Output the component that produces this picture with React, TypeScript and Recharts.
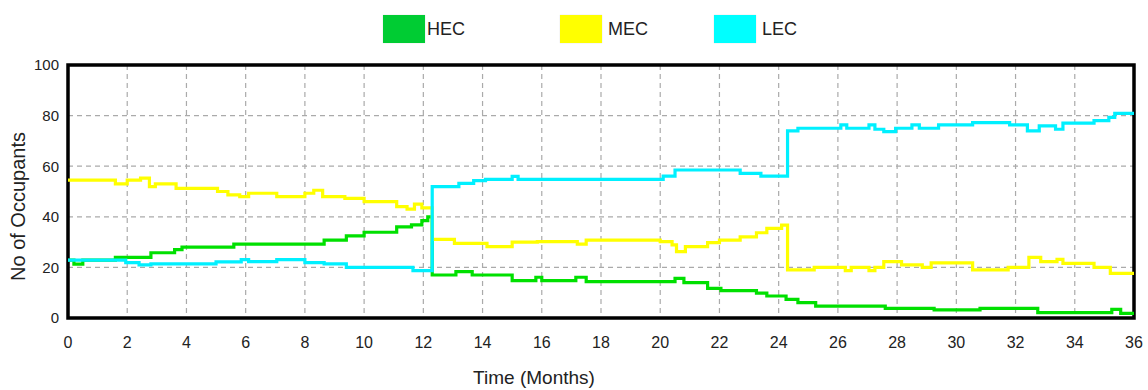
import React from 'react';
import { LineChart, Line, XAxis, YAxis, CartesianGrid, Legend, ReferenceArea } from 'recharts';

// HEC (green) step breakpoints: months and occupants
const HEC_T = [0, 0.2, 0.5, 1.6, 2.8, 3.6, 3.85, 5.6, 8.65, 9.4, 10.0, 11.1, 11.6, 11.95, 12.15, 12.3, 13.1, 13.65, 15.0, 15.8, 16.0, 17.15, 17.5, 20.5, 20.8, 21.6, 22.05, 23.25, 23.6, 24.25, 24.65, 25.25, 27.6, 29.25, 30.8, 32.75, 35.25, 35.55, 36];
const HEC_V = [22.9, 21.3, 22.9, 24, 25.8, 27, 28, 29.2, 30.8, 32.5, 33.9, 36, 36.8, 38.5, 40, 17, 18.3, 17, 14.8, 16.1, 14.8, 16.1, 14.4, 15.7, 14, 11.7, 10.8, 9.8, 8.7, 7.4, 6.1, 4.7, 3.8, 3.2, 3.8, 2.1, 3.4, 1.8, 1.8];

// MEC (yellow)
const MEC_T = [0, 1.6, 2.0, 2.45, 2.75, 2.95, 3.65, 5.05, 5.4, 5.8, 6.1, 7.05, 8.0, 8.3, 8.6, 9.35, 10.0, 11.1, 11.45, 11.7, 11.95, 12.3, 13.05, 14.15, 15.0, 15.85, 17.2, 17.5, 20.0, 20.4, 20.55, 20.85, 21.6, 22.0, 22.7, 23.25, 23.6, 24.1, 24.3, 25.2, 26.25, 26.45, 27.05, 27.25, 27.55, 28.15, 28.85, 29.15, 30.55, 31.75, 32.45, 32.85, 33.4, 33.6, 34.65, 35.2, 36];
const MEC_V = [54.5, 53, 54.5, 55.3, 51.9, 53, 51.2, 50, 48.7, 48, 49.3, 48, 49.3, 50.5, 48, 47.3, 46, 44, 43, 45, 43.5, 31.1, 29.5, 28.2, 30, 30.2, 29.2, 30.8, 30.2, 28.9, 26.2, 28.2, 29.8, 30.8, 32.1, 33.7, 35.4, 36.7, 19, 20, 18.7, 20, 18.7, 20, 22.3, 21, 20, 21.8, 19, 20, 24, 22.3, 23.2, 21.6, 20, 17.6, 17.6];

// LEC (cyan)
const LEC_T = [0, 1.95, 2.4, 2.8, 5.0, 5.85, 6.1, 7.05, 8.0, 8.65, 9.4, 11.65, 12.3, 13.2, 13.7, 14.1, 15.0, 15.2, 20.1, 20.5, 22.7, 23.4, 24.3, 24.65, 26.1, 26.3, 27.05, 27.25, 27.55, 27.95, 28.5, 28.75, 29.4, 30.55, 31.8, 32.4, 32.8, 33.35, 33.6, 34.65, 35.15, 35.35, 36];
const LEC_V = [22.9, 21.9, 21, 21.4, 22.2, 23.1, 22.3, 23.1, 21.9, 21.4, 20, 18.7, 51.9, 53.2, 54.3, 54.8, 56, 54.8, 56.1, 58.5, 57.2, 56.1, 74, 75, 76.3, 75, 76.3, 74.6, 73.7, 75, 76.3, 75, 76.3, 77.2, 76.3, 74, 75.9, 74.6, 77, 78, 79.3, 80.9, 80.9];

const X_TICKS = [0, 2, 4, 6, 8, 10, 12, 14, 16, 18, 20, 22, 24, 26, 28, 30, 32, 34, 36];
const Y_TICKS = [0, 20, 40, 60, 80, 100];

const SERIES = [
  { name: 'HEC', t: HEC_T, v: HEC_V, line: '#00e000', swatch: '#00cc33' },
  { name: 'MEC', t: MEC_T, v: MEC_V, line: '#ffff00', swatch: '#ffff00' },
  { name: 'LEC', t: LEC_T, v: LEC_V, line: '#00f0ff', swatch: '#00ffff' },
];

const LEGEND_POS = [
  { sx: 383, tx: 427 },
  { sx: 560, tx: 608 },
  { sx: 714, tx: 762 },
];

const renderLegend = () => (
  <div style={{ position: 'relative', width: 1148, height: 51 }}>
    {SERIES.map((s, i) => (
      <React.Fragment key={s.name}>
        <div
          style={{
            position: 'absolute',
            left: LEGEND_POS[i].sx,
            top: 1,
            width: 42,
            height: 28,
            background: s.swatch,
            boxShadow: '0 0 1px #ccc',
          }}
        />
        <div
          style={{
            position: 'absolute',
            left: LEGEND_POS[i].tx,
            top: 4,
            fontFamily: 'Liberation Sans, Arial, sans-serif',
            fontSize: 18,
            color: '#222',
            lineHeight: '22px',
          }}
        >
          {s.name}
        </div>
      </React.Fragment>
    ))}
  </div>
);

export default function App() {
  return (
    <div style={{ position: 'absolute', left: 0, top: 0, background: '#fff' }}>
      <LineChart width={1148} height={390} margin={{ top: 14, right: 14, bottom: 0, left: 0 }}>
        <Legend
          verticalAlign="top"
          align="left"
          content={renderLegend}
          wrapperStyle={{ left: 0, top: 14, width: 1148, height: 51 }}
        />
        <CartesianGrid stroke="#aaa" strokeDasharray="5 4" strokeWidth={1.2} />
        <XAxis
          type="number"
          dataKey="t"
          domain={[0, 36]}
          ticks={X_TICKS}
          allowDataOverflow
          height={72}
          axisLine={false}
          tickLine={false}
          tickMargin={13}
          tick={{ fontSize: 16, fill: '#222', fontFamily: 'Liberation Sans Narrow, Arial Narrow, sans-serif' }}
          label={{ value: 'Time (Months)', position: 'center', dx: -67, dy: 23, fontSize: 19, fill: '#222', fontFamily: 'Liberation Sans Narrow, Arial Narrow, sans-serif' }}
        />
        <YAxis
          type="number"
          domain={[0, 100]}
          ticks={Y_TICKS}
          width={68}
          axisLine={false}
          tickLine={false}
          tickMargin={3}
          tick={{ fontSize: 15, fill: '#222', fontFamily: 'Liberation Sans, Arial, sans-serif' }}
          label={{ value: 'No of Occupants', angle: -90, position: 'center', dx: -16, dy: 15, fontSize: 20, fill: '#222', fontFamily: 'Liberation Sans, Arial, sans-serif' }}
        />
        {SERIES.map((s) => (
          <Line
            key={s.name}
            name={s.name}
            data={s.t.map((t, i) => ({ t, v: s.v[i] }))}
            dataKey="v"
            type="stepAfter"
            stroke={s.line}
            strokeWidth={3.2}
            dot={false}
            activeDot={false}
            isAnimationActive={false}
          />
        ))}
        <ReferenceArea x1={0} x2={36} y1={0} y2={100} fill="none" stroke="#000" strokeWidth={3.5} ifOverflow="visible" />
      </LineChart>
    </div>
  );
}
